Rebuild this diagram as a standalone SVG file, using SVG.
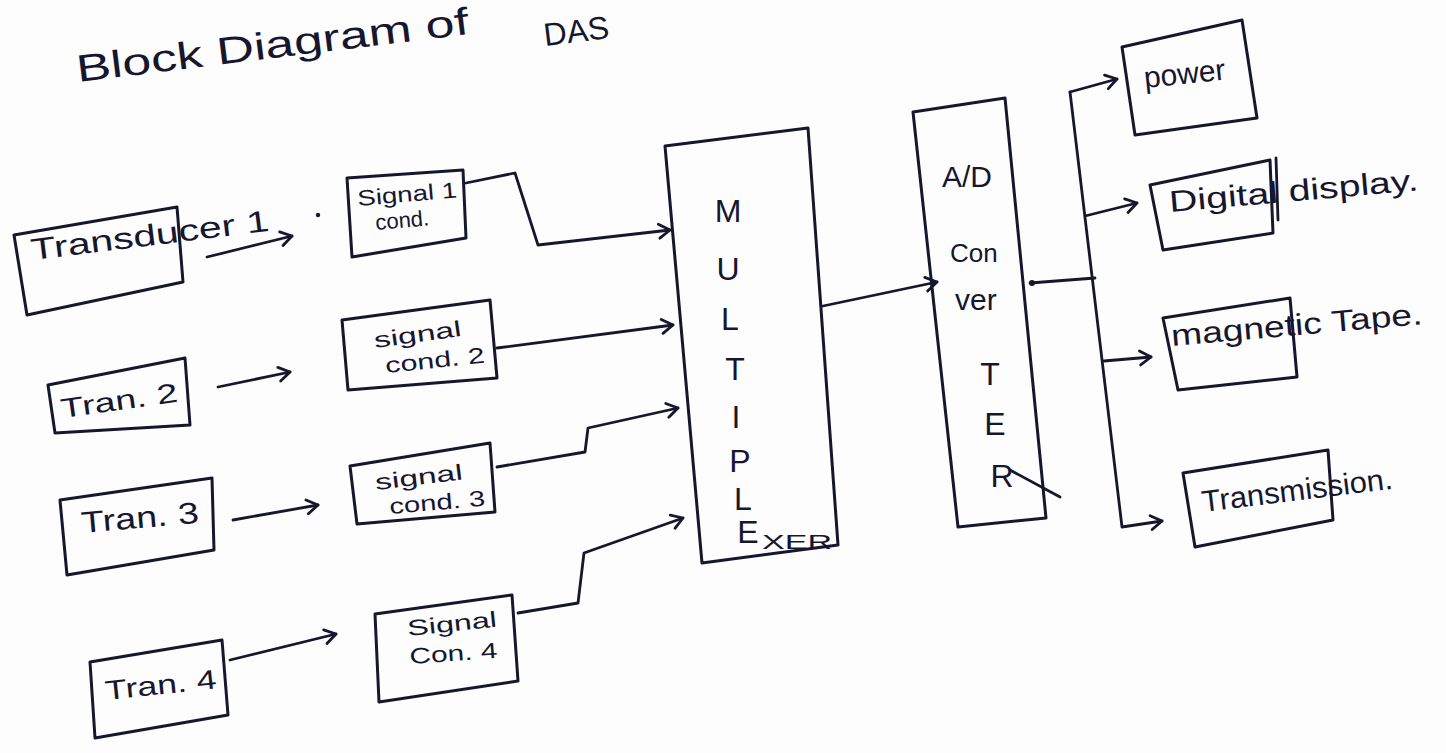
<svg xmlns="http://www.w3.org/2000/svg" width="1446" height="753" viewBox="0 0 1446 753">
<style>
.bg{fill:#fdfdfd}
.box{fill:none;stroke:#16162e;stroke-width:3;stroke-linejoin:round}
.w{fill:none;stroke:#16162e;stroke-width:2.8;stroke-linecap:round;stroke-linejoin:round}
.t{font-family:"Liberation Sans","DejaVu Sans",sans-serif;fill:#16162e}
.s22{font-size:22px}
.s26{font-size:27px}
.s30{font-size:30px}
.big{font-size:32px;text-anchor:middle}
</style>
<defs>
<marker id="ar" markerUnits="userSpaceOnUse" markerWidth="20" markerHeight="20" refX="14" refY="10" orient="auto">
<path d="M3,3 L14,10 L3,17" fill="none" stroke="#16162e" stroke-width="2.8" stroke-linecap="round" stroke-linejoin="round"/>
</marker>
</defs>
<rect class="bg" x="0" y="0" width="1446" height="753"/>

<g id="title">
<text class="t" font-size="38" transform="translate(78,82) rotate(-7)" textLength="395" lengthAdjust="spacingAndGlyphs">Block Diagram of</text>
<text class="t" font-size="32" transform="translate(545,46) rotate(-7)">DAS</text>
</g>

<g id="transducer1">
<polygon class="box" points="14,235 177,207 183,282 27,315"/>
<text class="t s30" transform="translate(32,260) rotate(-7)" textLength="240" lengthAdjust="spacingAndGlyphs">Transducer 1</text>
</g>
<g id="tran2">
<polygon class="box" points="48,385 185,358 190,425 55,433"/>
<text class="t s26" transform="translate(62,418) rotate(-8)" textLength="118" lengthAdjust="spacingAndGlyphs">Tran. 2</text>
</g>
<g id="tran3">
<polygon class="box" points="60,500 212,478 214,550 67,575"/>
<text class="t s30" transform="translate(82,533) rotate(-5)" textLength="118" lengthAdjust="spacingAndGlyphs">Tran. 3</text>
</g>
<g id="tran4">
<polygon class="box" points="90,662 222,640 228,715 95,738"/>
<text class="t s26" transform="translate(106,700) rotate(-6)" textLength="112" lengthAdjust="spacingAndGlyphs">Tran. 4</text>
</g>

<g id="signal1">
<polygon class="box" points="347,178 463,170 466,238 352,257"/>
<text class="t s22" transform="translate(358,206) rotate(-5)" textLength="100" lengthAdjust="spacingAndGlyphs">Signal 1</text>
<text class="t s22" transform="translate(376,230) rotate(-5)">cond.</text>
</g>
<g id="signal2">
<polygon class="box" points="342,320 490,300 497,378 348,390"/>
<text class="t s22" transform="translate(375,348) rotate(-8)" textLength="88" lengthAdjust="spacingAndGlyphs">signal</text>
<text class="t s22" transform="translate(386,373) rotate(-6)" textLength="100" lengthAdjust="spacingAndGlyphs">cond. 2</text>
</g>
<g id="signal3">
<polygon class="box" points="350,466 490,443 495,512 357,524"/>
<text class="t s22" transform="translate(376,490) rotate(-7)" textLength="88" lengthAdjust="spacingAndGlyphs">signal</text>
<text class="t s22" transform="translate(390,514) rotate(-5)" textLength="96" lengthAdjust="spacingAndGlyphs">cond. 3</text>
</g>
<g id="signal4">
<polygon class="box" points="375,614 512,595 518,681 379,702"/>
<text class="t s22" transform="translate(408,636) rotate(-6)" textLength="90" lengthAdjust="spacingAndGlyphs">Signal</text>
<text class="t s22" transform="translate(410,664) rotate(-4)" textLength="88" lengthAdjust="spacingAndGlyphs">Con. 4</text>
</g>

<g id="multiplexer">
<polygon class="box" points="665,146 808,128 838,545 702,563"/>
<text class="t big" x="728" y="222" font-size="36">M</text>
<text class="t big" x="728" y="280">U</text>
<text class="t big" x="730" y="330">L</text>
<text class="t big" x="735" y="380">T</text>
<text class="t big" x="736" y="428">I</text>
<text class="t big" x="740" y="472">P</text>
<text class="t big" x="743" y="510">L</text>
<text class="t big" x="748" y="543" font-size="28">E</text>
<text class="t" x="762" y="549" font-size="20" textLength="70" lengthAdjust="spacingAndGlyphs">XER</text>
</g>

<g id="adc">
<polygon class="box" points="913,112 1005,98 1046,518 958,527"/>
<text class="t" x="942" y="187" font-size="30">A/D</text>
<text class="t" x="950" y="262" font-size="26">Con</text>
<text class="t" x="955" y="310" font-size="30">ver</text>
<text class="t big" x="990" y="385">T</text>
<text class="t big" x="995" y="435">E</text>
<text class="t big" x="1002" y="487">R</text>
<line class="w" x1="1010" y1="470" x2="1060" y2="497"/>
</g>

<g id="power">
<polygon class="box" points="1122,47 1242,20 1257,118 1135,135"/>
<text class="t s30" transform="translate(1145,88) rotate(-6)">power</text>
</g>
<g id="digital-display">
<polygon class="box" points="1150,185 1270,160 1273,233 1163,250"/>
<line class="w" x1="1276" y1="158" x2="1278" y2="220"/>
<text class="t s30" transform="translate(1170,212) rotate(-5)" textLength="250" lengthAdjust="spacingAndGlyphs">Digital display.</text>
</g>
<g id="magnetic-tape">
<polygon class="box" points="1163,318 1290,298 1297,377 1178,390"/>
<text class="t s30" transform="translate(1172,346) rotate(-5)" textLength="252" lengthAdjust="spacingAndGlyphs">magnetic Tape.</text>
</g>
<g id="transmission">
<polygon class="box" points="1183,473 1328,450 1333,520 1195,547"/>
<text class="t s30" transform="translate(1203,512) rotate(-7)" textLength="192" lengthAdjust="spacingAndGlyphs">Transmission.</text>
</g>

<g id="connectors">
<polyline class="w" points="207,257 292,236" marker-end="url(#ar)"/>
<circle cx="318" cy="215" r="2.2" fill="#16162e"/>
<polyline class="w" points="218,387 290,372" marker-end="url(#ar)"/>
<polyline class="w" points="233,520 318,505" marker-end="url(#ar)"/>
<polyline class="w" points="230,660 336,634" marker-end="url(#ar)"/>

<polyline class="w" points="466,183 515,173 538,245 670,230" marker-end="url(#ar)"/>
<polyline class="w" points="497,348 673,325" marker-end="url(#ar)"/>
<polyline class="w" points="497,467 585,452 588,428 678,408" marker-end="url(#ar)"/>
<polyline class="w" points="518,613 578,603 584,553 683,518" marker-end="url(#ar)"/>

<polyline class="w" points="823,306 937,282" marker-end="url(#ar)"/>

<polyline class="w" points="1030,283 1095,278"/>
<circle cx="1032" cy="283" r="3" fill="#16162e"/>
<polyline class="w" points="1070,92 1122,527 1162,521" marker-end="url(#ar)"/>
<polyline class="w" points="1070,92 1117,79" marker-end="url(#ar)"/>
<polyline class="w" points="1085,216 1137,203" marker-end="url(#ar)"/>
<polyline class="w" points="1104,361 1151,357" marker-end="url(#ar)"/>
</g>
</svg>
